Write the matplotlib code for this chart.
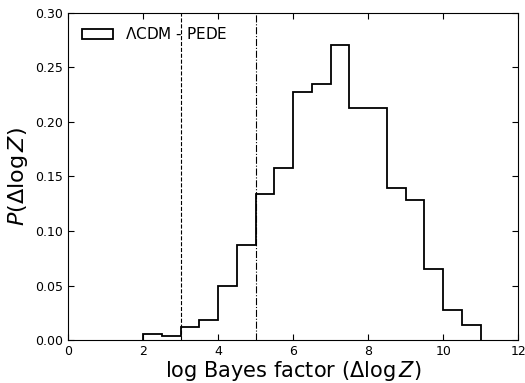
import numpy as np
import matplotlib
matplotlib.use("Agg")
import matplotlib.pyplot as plt

# bin edges and normalised heights
bin_edges = np.arange(2.0, 11.01, 0.5)
heights = [0.006, 0.004, 0.012, 0.018, 0.050, 0.087, 0.134, 0.158, 0.227,
           0.235, 0.270, 0.213, 0.213, 0.139, 0.128, 0.065, 0.028, 0.014]
label = r'$\Lambda$CDM - PEDE'
thresholds = [3.0, 5.0]

fig = plt.figure(figsize=(5.25, 3.83), dpi=100)
ax = fig.add_axes([0.130, 0.112, 0.857, 0.855])

centers = 0.5 * (bin_edges[:-1] + bin_edges[1:])
ax.hist(centers, bins=bin_edges, weights=heights, histtype='step',
        color='k', lw=1.3, label=label)

ax.axvline(thresholds[0], color='k', ls='--', lw=0.8)
ax.axvline(thresholds[1], color='k', ls='-.', lw=0.8)

ax.set_xlim(0, 12)
ax.set_ylim(0, 0.30)
ax.set_xticks(np.arange(0, 13, 2))
ax.set_yticks(np.arange(0, 0.31, 0.05))
ax.tick_params(direction='in', top=True, right=True, labelsize=9, length=4)
ax.set_xlabel(r'log Bayes factor ($\Delta \log Z$)', fontsize=15, labelpad=1)
ax.set_ylabel(r'$P(\Delta \log Z)$', fontsize=16, labelpad=4)
ax.legend(loc='upper left', frameon=False, fontsize=11)

fig.savefig('out.png', dpi=100)
